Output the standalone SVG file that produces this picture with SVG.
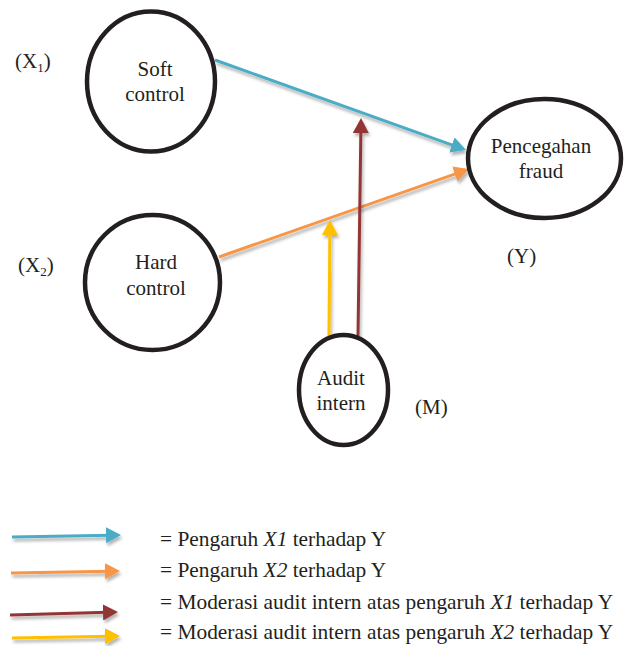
<svg xmlns="http://www.w3.org/2000/svg" width="625" height="646" viewBox="0 0 625 646">
<style>
.node{fill:#fff;stroke:#231f20;stroke-width:4.5}
text{font-family:"Liberation Serif","Times New Roman",serif;font-size:21px;fill:#231f20}
.lg{font-size:21.4px}
.c{text-anchor:middle}
.ln{fill:none;stroke-width:3;filter:url(#sh)}
.blue{stroke:#4bacc6}.orange{stroke:#f79646}.brown{stroke:#943634}.yellow{stroke:#ffc000}
</style>
<defs>
<filter id="sh" filterUnits="userSpaceOnUse" x="0" y="0" width="625" height="646">
<feDropShadow dx="1.5" dy="3" stdDeviation="1.5" flood-color="#000" flood-opacity="0.3"/>
</filter>
<marker id="mb" markerUnits="userSpaceOnUse" markerWidth="16" markerHeight="16" refX="5" refY="8" orient="auto"><path d="M0,0 L15,8 L0,16 z" fill="#4bacc6"/></marker>
<marker id="mo" markerUnits="userSpaceOnUse" markerWidth="16" markerHeight="16" refX="5" refY="8" orient="auto"><path d="M0,0 L15,8 L0,16 z" fill="#f79646"/></marker>
<marker id="mr" markerUnits="userSpaceOnUse" markerWidth="16" markerHeight="16" refX="5" refY="8" orient="auto"><path d="M0,0 L15,8 L0,16 z" fill="#943634"/></marker>
<marker id="my" markerUnits="userSpaceOnUse" markerWidth="16" markerHeight="16" refX="5" refY="8" orient="auto"><path d="M0,0 L15,8 L0,16 z" fill="#ffc000"/></marker>
</defs>
<rect width="625" height="646" fill="#fff"/>

<g id="connectors">
<line class="ln blue" x1="215" y1="60" x2="456.6" y2="146.6" marker-end="url(#mb)"/>
<line class="ln orange" x1="219" y1="257" x2="459.6" y2="172.3" marker-end="url(#mo)"/>
<line class="ln brown" x1="358" y1="336" x2="360.9" y2="128" marker-end="url(#mr)"/>
<line class="ln yellow" x1="329" y1="336" x2="329.9" y2="230" marker-end="url(#my)"/>
</g>

<g id="soft-control">
<ellipse class="node" cx="151" cy="81.5" rx="64" ry="70"/>
<text class="c" x="155" y="76">Soft</text>
<text class="c" x="155" y="101">control</text>
</g>
<g id="hard-control">
<ellipse class="node" cx="152.5" cy="282.5" rx="67.5" ry="67.5"/>
<text class="c" x="156" y="269">Hard</text>
<text class="c" x="156" y="295">control</text>
</g>
<g id="pencegahan-fraud">
<ellipse class="node" cx="544.5" cy="158.5" rx="76.5" ry="59.5"/>
<text class="c" x="541" y="153">Pencegahan</text>
<text class="c" x="541" y="178">fraud</text>
</g>
<g id="audit-intern">
<ellipse class="node" cx="343.5" cy="390" rx="44.5" ry="55"/>
<text class="c" x="341" y="385">Audit</text>
<text class="c" x="341" y="410">intern</text>
</g>

<g id="labels">
<text x="15" y="68">(X<tspan font-size="13" dy="4">1</tspan><tspan dy="-4">)</tspan></text>
<text x="18" y="272">(X<tspan font-size="13" dy="4">2</tspan><tspan dy="-4">)</tspan></text>
<text x="507" y="263">(Y)</text>
<text x="415" y="414">(M)</text>
</g>

<g id="legend">
<line class="ln blue" x1="12" y1="537" x2="111" y2="535.2" marker-end="url(#mb)"/>
<line class="ln orange" x1="11" y1="573" x2="110" y2="571.2" marker-end="url(#mo)"/>
<line class="ln brown" x1="10" y1="615" x2="108" y2="612.3" marker-end="url(#mr)"/>
<line class="ln yellow" x1="12" y1="638" x2="110" y2="636.2" marker-end="url(#my)"/>
<text class="lg" x="160" y="546">= Pengaruh <tspan font-style="italic">X1</tspan> terhadap Y</text>
<text class="lg" x="160" y="577">= Pengaruh <tspan font-style="italic">X2</tspan> terhadap Y</text>
<text class="lg" x="160" y="609">= Moderasi audit intern atas pengaruh <tspan font-style="italic">X1</tspan> terhadap Y</text>
<text class="lg" x="160" y="639">= Moderasi audit intern atas pengaruh <tspan font-style="italic">X2</tspan> terhadap Y</text>
</g>
</svg>
